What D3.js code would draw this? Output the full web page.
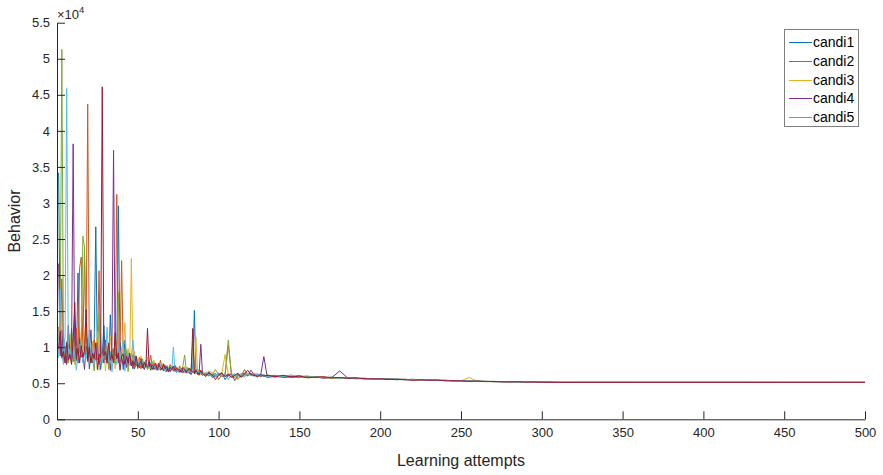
<!DOCTYPE html>
<html>
<head>
<meta charset="utf-8">
<script src="https://cdn.jsdelivr.net/npm/d3@7"></script>
<style>
  body { margin: 0; background: #fff; }
  svg { font-family: "Liberation Sans", Arial, sans-serif; }
</style>
</head>
<body>
<div id="chart"></div>
<script>
// attempt numbers where the values were read (dense at the start, sparse later)
const attempts = [...d3.range(1, 91), ...d3.range(92, 131, 2), ...d3.range(135, 311, 5), 500]

const candi1 = [
  34200, 9800, 8600, 11800, 9000, 8200, 10400, 8800, 12600, 8400,
  9600, 8100, 20300, 9200, 10800, 8000, 9400, 8600, 11200, 7000,
  9000, 8400, 10600, 26700, 8300, 9200, 6900, 8800, 13000, 8200,
  9400, 7100, 14500, 8500, 9600, 8000, 9000, 29600, 8400, 9200,
  6900, 11000, 8200, 7600, 8800, 7400, 8200, 7000, 7800, 7300,
  8000, 7200, 7600, 6900, 7500, 7100, 7700, 6800, 7300, 7000,
  7400, 6800, 7200, 6900, 7600, 6700, 7100, 6600, 7000, 6800,
  7300, 6700, 6900, 6500, 7000, 6600, 6800, 6400, 6900, 6500,
  6700, 6300, 6800, 6900, 15100, 6500, 6200, 6600, 6300, 6100,
  6400, 6000, 6300, 5900, 6200, 6500, 5500, 6100, 5900, 6300,
  5600, 6200, 6400, 6100, 6300, 6000, 6200, 5900, 6100, 5800,
  6000, 5800, 5950, 6050, 5800, 5900, 5750, 5850, 5700, 5800,
  5650, 5700, 5600, 5650, 5550, 5600, 5500, 5550, 5450, 5480,
  5400, 5420, 5350, 5370, 5300, 5280, 5250, 5260, 5220, 5200,
  5210, 5180, 5170, 5160, 5150, 5130,
  5120
]
const candi2 = [
  12800, 9400, 19500, 8800, 10200, 7800, 9600, 8400, 11400, 8000,
  9000, 12600, 8500, 21000, 22500, 9200, 23400, 10400, 43700, 8600,
  9800, 8200, 11000, 8800, 9400, 20600, 8000, 9200, 8400, 10400,
  7800, 9000, 8200, 9800, 8600, 10800, 31200, 8400, 9400, 22000,
  8200, 7600, 9000, 7400, 8400, 7800, 8800, 7200, 8000, 7600,
  8600, 7000, 7800, 7400, 8200, 7100, 7600, 8900, 7200, 7800,
  6900, 7500, 7000, 8200, 7100, 7400, 6800, 7300, 6900, 7600,
  6800, 7200, 6600, 7100, 6700, 7400, 6600, 7000, 6500, 6900,
  6400, 7000, 6300, 6800, 6500, 6900, 6400, 6100, 6600, 6300,
  6100, 6600, 6000, 6400, 5500, 6200, 6000, 10300, 6200, 5800,
  6300, 6000, 6900, 6200, 6400, 6100, 6300, 6000, 6200, 5900,
  5900, 6050, 5850, 5950, 6000, 5800, 5900, 5700, 5800, 5750,
  5700, 5600, 5680, 5550, 5620, 5500, 5560, 5450, 5500, 5420,
  5440, 5350, 5380, 5300, 5320, 5250, 5270, 5220, 5240, 5190,
  5180, 5200, 5150, 5170, 5140, 5130,
  5120
]
const candi3 = [
  9000, 13500, 8400, 10600, 7800, 9400, 8000, 11800, 8600, 9800,
  7600, 10200, 8200, 9400, 12000, 8800, 10600, 14800, 8400, 9600,
  7800, 10800, 8600, 9000, 12200, 6800, 9400, 8200, 10200, 6700,
  9800, 8400, 11600, 8000, 9200, 7000, 10400, 8600, 9000, 7800,
  9600, 13400, 8400, 9800, 8000, 22300, 8200, 9400, 7400, 8400,
  7600, 8800, 7200, 8000, 7400, 8600, 7000, 7800, 7300, 8200,
  7100, 7700, 6900, 7400, 7800, 7000, 7500, 6800, 7300, 6700,
  7100, 6900, 7400, 6600, 7200, 6800, 7000, 6500, 7300, 6700,
  6900, 6400, 7100, 6600, 6800, 11400, 6500, 6900, 6200, 6600,
  6300, 6700, 6500, 6200, 6000, 6300, 9000, 6200, 6400, 6000,
  5500, 6300, 6100, 6400, 6000, 6300, 5900, 6200, 6000, 6100,
  5950, 5900, 6100, 5850, 5950, 5750, 5850, 5800, 5650, 5720,
  5600, 5660, 5580, 5600, 5500, 5560, 5480, 5520, 5420, 5450,
  5370, 5400, 5330, 5340, 5800, 5300, 5230, 5250, 5200, 5230,
  5170, 5190, 5160, 5150, 5140, 5120,
  5120
]
const candi4 = [
  21600, 8800, 12400, 8200, 9600, 7600, 13000, 8600, 9400, 38200,
  8400, 9800, 7800, 11200, 8600, 9200, 6900, 10200, 8000, 9400,
  12400, 7800, 9000, 8200, 10600, 7600, 8800, 9600, 7800, 11000,
  8400, 9200, 6800, 10000, 37300, 8200, 9400, 7800, 10600, 8400,
  7600, 9200, 7200, 8600, 7600, 8200, 7000, 8800, 7400, 7900,
  7100, 8400, 7600, 7000, 7800, 7200, 8000, 7100, 7600, 6900,
  7300, 7000, 7800, 6800, 7200, 6900, 7400, 6700, 7100, 6600,
  7000, 6800, 7500, 6700, 6900, 6500, 7100, 6600, 6800, 6400,
  7000, 6600, 6200, 6700, 6400, 6800, 6300, 6600, 10400, 6400,
  6200, 6500, 5800, 6100, 6400, 5900, 6200, 6000, 6300, 5400,
  6100, 5900, 6200, 6000, 6800, 6200, 6000, 6100, 8700, 6000,
  6100, 5850, 5900, 5800, 5900, 5850, 5700, 5780, 6700, 5700,
  5740, 5640, 5620, 5580, 5600, 5520, 5540, 5470, 5480, 5400,
  5420, 5380, 5320, 5350, 5280, 5300, 5240, 5230, 5210, 5220,
  5190, 5170, 5180, 5140, 5150, 5120,
  5120
]
const candi5 = [
  11000, 14000, 51300, 9800, 8400, 10800, 7800, 9200, 8600, 12000,
  8000, 9600, 8400, 10400, 9000, 25400, 23900, 8800, 10000, 7800,
  9200, 8600, 6700, 9800, 8200, 14700, 8600, 7800, 9600, 8400,
  10200, 6900, 9000, 8200, 9800, 7800, 8800, 17600, 8000, 9400,
  8600, 7800, 9600, 6600, 8400, 7800, 9000, 7600, 8200, 7000,
  7800, 7400, 8400, 7200, 7600, 6900, 7400, 7000, 8000, 7200,
  7600, 6800, 7300, 7100, 6800, 7500, 6900, 7200, 6700, 7400,
  6900, 7000, 6700, 7300, 6600, 7100, 6800, 7500, 8900, 6800,
  7200, 6600, 7000, 10700, 6600, 6400, 6900, 6300, 6700, 6500,
  5900, 6300, 6100, 6900, 6200, 5900, 6400, 11000, 6000, 5400,
  6200, 6100, 5900, 6300, 6100, 6400, 6100, 6300, 5900, 6200,
  5850, 6000, 5800, 5900, 5850, 5950, 5800, 5700, 5760, 5650,
  5680, 5620, 5640, 5560, 5580, 5480, 5520, 5480, 5440, 5460,
  5380, 5400, 5340, 5320, 5300, 5260, 5280, 5210, 5230, 5180,
  5200, 5160, 5170, 5150, 5130, 5120,
  5120
]
const candi6 = [
  8500, 18000, 9200, 7600, 11400, 45900, 8400, 9800, 7800, 10400,
  8800, 6800, 9600, 8200, 11000, 7800, 9400, 8400, 9800, 12400,
  8000, 9400, 7600, 10200, 8600, 9000, 11800, 7800, 9200, 8600,
  12800, 8000, 9400, 6600, 9000, 8800, 7600, 10200, 8200, 9800,
  10800, 6700, 8400, 9200, 7600, 8600, 11000, 7800, 8600, 7200,
  8200, 7600, 8000, 7300, 8200, 7500, 7100, 7900, 7000, 7500,
  7000, 7400, 6800, 7700, 7000, 7200, 6600, 7500, 6800, 7100,
  6700, 10000, 6800, 7000, 6500, 7200, 6700, 6900, 6600, 7200,
  6500, 6800, 6400, 7000, 6700, 6300, 6800, 6400, 6500, 6200,
  6500, 6200, 5900, 6300, 6100, 6000, 6300, 5500, 6100, 6200,
  5900, 6400, 6000, 6200, 6100, 6000, 6300, 6100, 6200, 5900,
  6000, 5950, 6150, 5850, 5800, 5900, 5780, 5820, 5700, 5740,
  5620, 5680, 5570, 5620, 5540, 5580, 5470, 5500, 5460, 5400,
  5410, 5360, 5370, 5310, 5330, 5270, 5260, 5240, 5190, 5210,
  5170, 5180, 5150, 5160, 5130, 5120,
  5120
]
const candi7 = [
  9800, 12200, 8600, 9400, 7800, 10600, 8200, 9000, 7600, 11200,
  16200, 8400, 9800, 7800, 10200, 8600, 9400, 15200, 8200, 10000,
  7800, 9200, 8400, 10600, 6900, 9000, 8600, 46100, 8800, 9400,
  7800, 10600, 8200, 9000, 7800, 12000, 8400, 9200, 6800, 8800,
  9000, 7600, 8800, 7800, 9200, 7400, 8000, 7600, 8800, 7200,
  7700, 8000, 7100, 7900, 7300, 12600, 7300, 7700, 6900, 7400,
  7800, 6900, 7500, 7200, 6900, 7700, 7000, 7300, 6600, 7200,
  6900, 7400, 6800, 7100, 6800, 6900, 6500, 7200, 6900, 6600,
  6800, 7100, 6600, 12600, 6300, 6700, 6500, 6200, 6800, 6300,
  6000, 6400, 6200, 5500, 6100, 6400, 5900, 6300, 5800, 6100,
  6400, 5800, 6300, 6800, 6200, 6100, 5900, 6200, 6000, 6100,
  5900, 6100, 5850, 6000, 5750, 5850, 5880, 5750, 5800, 5680,
  5720, 5640, 5600, 5620, 5520, 5540, 5500, 5430, 5470, 5410,
  5430, 5350, 5360, 5330, 5260, 5290, 5220, 5250, 5200, 5190,
  5210, 5160, 5170, 5140, 5130, 5120,
  5120
]

const seriesValues = [candi1, candi2, candi3, candi4, candi5, candi6, candi7]
const colors = ['#0072BD', '#D95319', '#EDB120', '#7E2F8E', '#77AC30', '#4DBEEE', '#A2142F']
const legendNames = ['candi1', 'candi2', 'candi3', 'candi4', 'candi5']
const xTicks = [0, 50, 100, 150, 200, 250, 300, 350, 400, 450, 500]
const yTicks = [0, 5000, 10000, 15000, 20000, 25000, 30000, 35000, 40000, 45000, 50000, 55000]
const yTickLabels = ['0', '0.5', '1', '1.5', '2', '2.5', '3', '3.5', '4', '4.5', '5', '5.5']

const width = 883
const height = 475
const margin = { top: 22.7, right: 18, bottom: 55.7, left: 57 }
const axisColor = '#262626'

const svg = d3.select('#chart')
  .append('svg')
  .attr('width', width)
  .attr('height', height)

const x = d3.scaleLinear().domain([0, 500]).range([margin.left, width - margin.right])
const y = d3.scaleLinear().domain([0, 55000]).range([height - margin.bottom, margin.top])

// lines
const line = d3.line()
  .x((d) => x(d[0]))
  .y((d) => y(d[1]))

svg.append('g')
  .selectAll('path')
  .data(seriesValues)
  .enter()
  .append('path')
  .attr('d', (vals) => {
    const n = Math.min(vals.length, attempts.length)
    if (vals.length !== attempts.length) console.warn('length mismatch', vals.length, attempts.length)
    return line(d3.range(n).map((i) => [attempts[i], vals[i]]))
  })
  .attr('fill', 'none')
  .attr('stroke', (d, i) => colors[i])
  .attr('stroke-width', 1)
  .attr('stroke-linejoin', 'round')

// axes, ticks pointing inward like matlab
const xAxis = d3.axisBottom(x).tickValues(xTicks).tickSize(-8).tickSizeOuter(0).tickPadding(8)
const yAxis = d3.axisLeft(y).tickValues(yTicks).tickFormat((d, i) => yTickLabels[i])
  .tickSize(-8).tickSizeOuter(0).tickPadding(7)

const gx = svg.append('g')
  .attr('transform', `translate(0, ${height - margin.bottom})`)
  .call(xAxis)
const gy = svg.append('g')
  .attr('transform', `translate(${margin.left}, 0)`)
  .call(yAxis)

for (const g of [gx, gy]) {
  g.selectAll('path, line').attr('stroke', axisColor).attr('stroke-width', 1)
  g.selectAll('text').attr('fill', axisColor).attr('font-size', 13)
    .attr('font-family', '"Liberation Sans", Arial, sans-serif')
}

// exponent label
const expo = svg.append('text')
  .attr('x', margin.left)
  .attr('y', 19)
  .attr('font-size', 13)
  .attr('fill', axisColor)
expo.append('tspan').text('\u00d710')
expo.append('tspan').text('4').attr('font-size', 9.5).attr('dy', -6)

// axis titles
svg.append('text')
  .text('Learning attempts')
  .attr('x', (margin.left + width - margin.right) / 2)
  .attr('y', 466)
  .attr('text-anchor', 'middle')
  .attr('font-size', 16)
  .attr('fill', axisColor)

svg.append('text')
  .text('Behavior')
  .attr('transform', `translate(20, ${(margin.top + height - margin.bottom) / 2}) rotate(-90)`)
  .attr('text-anchor', 'middle')
  .attr('font-size', 16)
  .attr('fill', axisColor)

// legend
const legend = svg.append('g').attr('transform', 'translate(784.5, 29.5)')
legend.append('rect')
  .attr('width', 74)
  .attr('height', 97)
  .attr('fill', '#fff')
  .attr('stroke', '#7f7f7f')
  .attr('stroke-width', 1)

const items = legend.selectAll('g.item')
  .data(legendNames)
  .enter()
  .append('g')
  .attr('class', 'item')
  .attr('transform', (d, i) => `translate(0, ${Math.round(13.3 + i * 18.7)})`)

items.append('line')
  .attr('x1', 4.5)
  .attr('x2', 27.5)
  .attr('stroke', (d) => colors[legendNames.indexOf(d)])
  .attr('stroke-width', 1)
  .attr('shape-rendering', 'crispEdges')

items.append('text')
  .text((d) => d)
  .attr('x', 28.5)
  .attr('dy', '0.35em')
  .attr('font-size', 14)
  .attr('fill', '#000')
</script>
</body>
</html>
